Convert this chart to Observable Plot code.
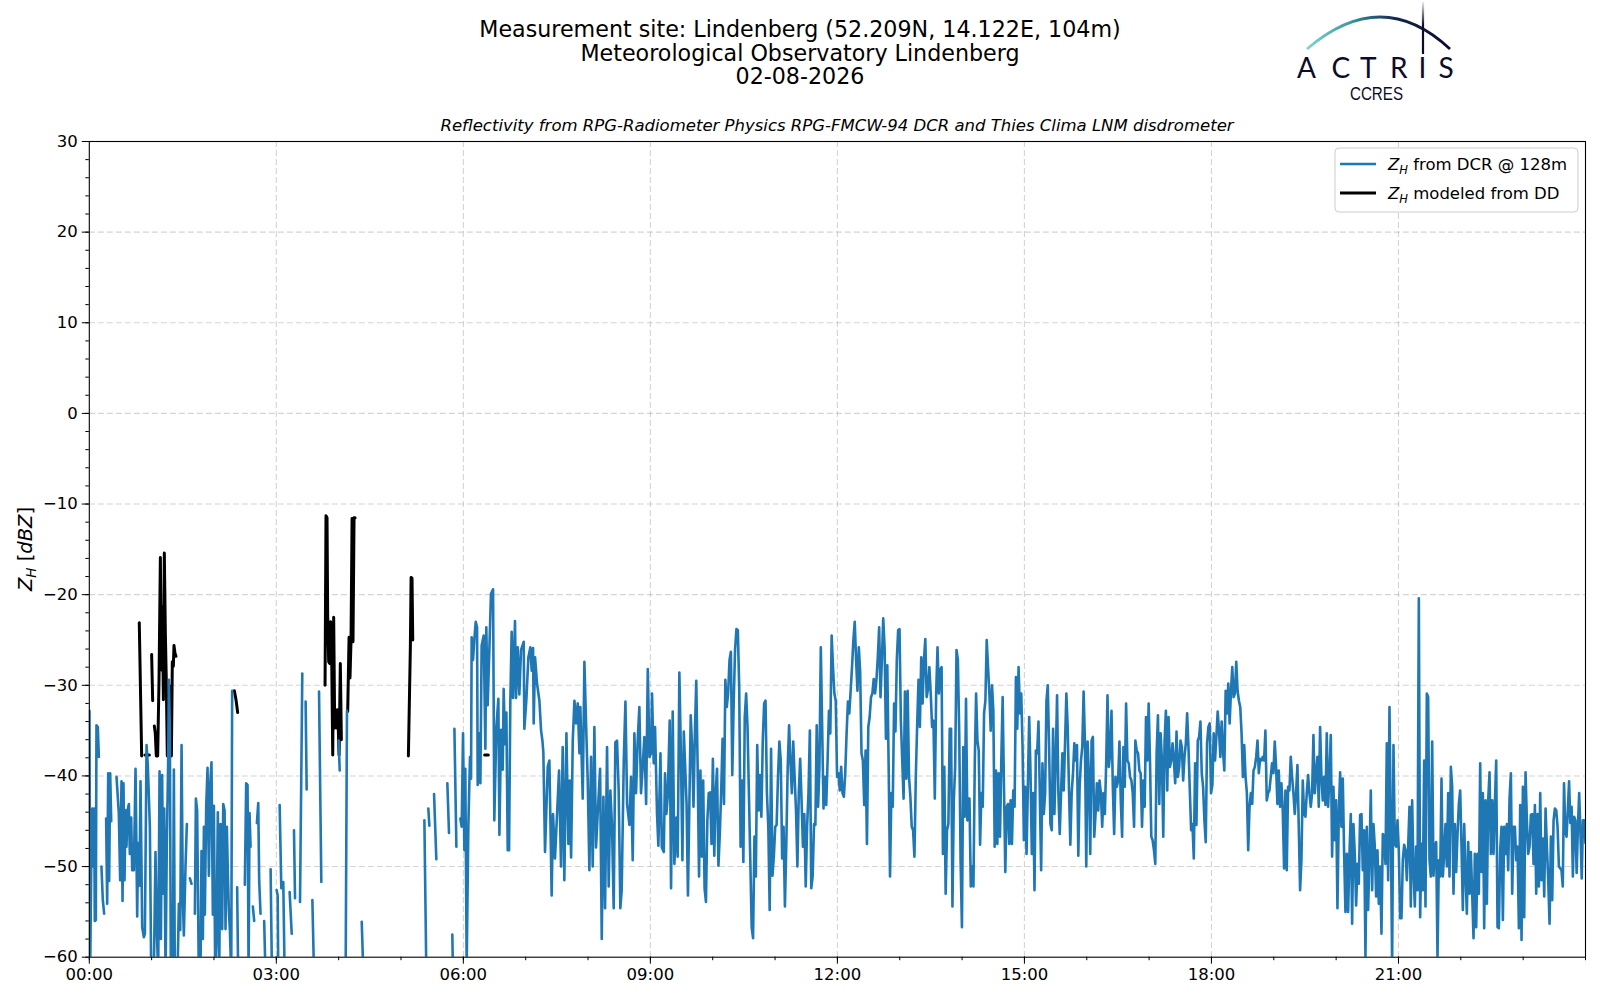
<!DOCTYPE html>
<html><head><meta charset="utf-8">
<script src="https://cdn.jsdelivr.net/npm/d3@7"></script>
<script src="https://cdn.jsdelivr.net/npm/@observablehq/plot@0.6"></script>
<style>
html,body{margin:0;padding:0;background:#fff;}
#wrap{position:relative;width:1600px;height:1000px;overflow:hidden;font-family:"DejaVu Sans",sans-serif;}
#chart{position:absolute;left:0;top:0;}
#overlay{position:absolute;left:0;top:0;}
</style></head><body>
<div id="wrap"><div id="chart"></div>
<svg id="overlay" width="1600" height="1000" font-family="DejaVu Sans">
  <defs>
    <linearGradient id="arcg" x1="1307" y1="0" x2="1450" y2="0" gradientUnits="userSpaceOnUse">
      <stop offset="0" stop-color="#86d3c9"/><stop offset="0.3" stop-color="#3a9aa3"/>
      <stop offset="0.62" stop-color="#14254f"/><stop offset="1" stop-color="#0b0b2a"/>
    </linearGradient>
    <linearGradient id="vg" x1="0" y1="0" x2="0" y2="56" gradientUnits="userSpaceOnUse">
      <stop offset="0" stop-color="#ffffff"/><stop offset="0.45" stop-color="#0b0b2a"/>
    </linearGradient>
  </defs>
  <g id="titles" text-anchor="middle" fill="#000" font-size="22.2">
    <text x="800" y="37">Measurement site: Lindenberg (52.209N, 14.122E, 104m)</text>
    <text x="800" y="60.5">Meteorological Observatory Lindenberg</text>
    <text x="800" y="84">02-08-2026</text>
  </g>
  <text x="837" y="131" text-anchor="middle" font-size="16.5" font-style="italic">Reflectivity from RPG-Radiometer Physics RPG-FMCW-94 DCR and Thies Clima LNM disdrometer</text>
  <g id="logo">
    <path d="M1307,49 Q1381.5,-15 1450,49" fill="none" stroke="url(#arcg)" stroke-width="2.8"/>
    <line x1="1423" y1="2" x2="1423" y2="54" stroke="url(#vg)" stroke-width="2.2"/>
    <text x="1297 1331.5 1360 1390 1418.5 1438.5" y="77.5" font-size="28" font-family="Lato" fill="#0b0b2a">ACTRIS</text>
    <text x="1376.5" y="100" text-anchor="middle" font-size="18" font-family="Liberation Sans" fill="#0b0b2a" textLength="53" lengthAdjust="spacingAndGlyphs">CCRES</text>
  </g>
  <text transform="translate(32,549) rotate(-90)" text-anchor="middle" font-size="19.5"><tspan font-style="italic">Z</tspan><tspan font-style="italic" font-size="13.5" dy="3.8">H</tspan><tspan dy="-3.8"> [</tspan><tspan font-style="italic">dBZ</tspan><tspan>]</tspan></text>
  <g id="legend">
    <rect x="1335" y="148" width="243" height="64" rx="4" fill="#fff" fill-opacity="0.8" stroke="#cccccc" stroke-width="1"/>
    <line x1="1340" y1="164" x2="1376" y2="164" stroke="#1f77b4" stroke-width="2.6"/>
    <line x1="1340" y1="193" x2="1376" y2="193" stroke="#000" stroke-width="3"/>
    <text x="1388" y="170" font-size="16.5"><tspan font-style="italic">Z</tspan><tspan font-style="italic" font-size="11.5" dy="3.5">H</tspan><tspan dy="-3.5"> from DCR @ 128m</tspan></text>
    <text x="1388" y="199" font-size="16.5"><tspan font-style="italic">Z</tspan><tspan font-style="italic" font-size="11.5" dy="3.5">H</tspan><tspan dy="-3.5"> modeled from DD</tspan></text>
  </g>
</svg></div>
<script>
// ---------- axis ticks ----------
const yTicks = [-60, -50, -40, -30, -20, -10, 0, 10, 20, 30];
const yGrid = [-50, -40, -30, -20, -10, 0, 10, 20];
const xTickMinutes = [0, 180, 360, 540, 720, 900, 1080, 1260];
const xTickLabels = ["00:00", "03:00", "06:00", "09:00", "12:00", "15:00", "18:00", "21:00"];
const xGrid = [180, 360, 540, 720, 900, 1080, 1260];
const xMinor = d3.range(0, 1441, 60);
const yMinor = d3.range(-60, 31, 2);

// ---------- Z_H modeled from disdrometer (time in minutes after 00:00 UTC) ----------
const ddTime = [48.1,50.4,null,53.6,57.8,null,60.0,61.0,null,62.6,63.5,64.5,65.8,67.1,68.4,69.3,70.3,71.3,72.2,73.2,74.1,75.1,76.1,77.0,78.0,79.0,79.9,80.9,81.5,82.5,83.4,null,139.6,141.2,142.8,null,226.9,227.8,228.8,229.4,230.4,231.4,232.3,233.3,234.3,235.2,236.2,237.2,238.1,239.1,240.4,241.6,242.6,null,248.7,250.0,250.9,251.9,252.9,253.8,254.8,255.8,null,307.1,309.0,309.7,310.6,311.3,null,380.5,384.0];
const ddValue = [-23.1,-37.8,null,-37.7,-37.7,null,-26.6,-31.7,null,-34.5,-35.3,-37.8,-37.8,-29.4,-15.9,-28.3,-21.4,-31.6,-15.4,-24.3,-29.4,-37.8,-34.5,-37.8,-30.1,-37.8,-27.4,-27.9,-25.6,-26.5,-26.8,null,-30.6,-31.6,-33.0,null,-30.0,-11.3,-11.5,-22.1,-27.4,-27.6,-23.0,-27.2,-37.7,-22.5,-34.7,-32.7,-34.7,-32.7,-37.7,-27.6,-36.0,null,-32.9,-24.7,-29.2,-25.0,-11.6,-25.2,-11.5,-11.5,null,-37.8,-25.8,-18.1,-18.2,-25.0,null,-37.7,-37.7];

// ---------- Z_H from DCR @ 128 m: night (sparse, gaps = null) ----------
const dcrNightTime = [0.2,0.8,1.8,2.8,3.7,4.7,5.3,6.3,6.9,8.2,9.2,null,
11.7,13.0,14.3,null,
16.2,17.2,18.2,19.1,20.1,21.1,null,
26.2,28.4,29.7,31.0,32.0,32.9,33.9,34.8,35.8,36.8,38.1,39.0,40.3,41.3,42.9,44.5,46.1,47.0,48.3,49.3,50.9,52.5,53.5,55.1,56.3,58.3,59.6,62.1,63.7,65.0,66.3,67.6,68.9,70.1,71.1,72.1,73.4,74.6,75.9,76.6,77.5,78.5,80.4,81.4,82.3,84.9,86.2,87.5,88.8,90.0,91.0,92.6,93.9,null,
96.8,98.4,null,
101.6,102.6,103.8,105.4,107.0,108.0,109.3,110.3,111.2,112.5,113.8,115.1,116.4,117.6,118.9,119.9,121.2,122.5,123.7,125.0,126.3,127.9,128.9,130.2,131.1,132.4,133.4,134.3,135.3,136.6,137.5,null,
142.3,143.3,null,
149.7,151.0,152.3,153.3,154.2,155.2,null,
157.4,158.7,null,
161.3,162.6,163.5,164.8,null,
168.3,169.6,null,
174.5,175.8,null,
180.3,181.3,181.9,null,
183.2,184.8,186.7,188.0,null,
192.8,194.8,null,
197.0,198.0,null,
202.8,205.0,null,
208.2,209.2,null,
214.7,216.3,null,
221.1,223.3,null,
240.0,241.0,null,
246.7,248.0,null,
262.2,263.8,null,
322.5,324.4,null,
326.3,327.3,null,
331.8,334.0,null,
344.6,346.2,null,
349.4,350.0,null,
351.4,353.3,null];
const dcrNightValue = [-32.8,-62,-50.5,-43.6,-50,-43.6,-56,-55.9,-34.4,-34.6,-37.9,null,
-50,-53.7,-55.2,null,
-44.7,-54.1,-39.7,-51.6,-39.7,-45,null,
-40.1,-44.1,-51.5,-40.6,-53.8,-40.8,-51.5,-43.8,-47.8,-43.8,-43.1,-48.6,-44.6,-50.4,-50.4,-39.2,-55.5,-47.4,-52.1,-40.6,-56.7,-57.8,-57.4,-36.6,-38.8,-45.6,-62,-62,-48.4,-57,-62,-39.5,-58,-39.9,-53,-43.6,-62,-47.5,-38.5,-29.4,-34.6,-62,-62,-39.3,-62,-62,-54.1,-57.0,-36.6,-53.5,-57.6,-50,-45.3,null,
-51.3,-51.9,null,
-55.2,-42.5,-43.8,-62,-62,-48.3,-58,-45.6,-55.3,-43.5,-39.1,-51.0,-40.9,-38.5,-55.3,-43.3,-62,-57.4,-44.0,-62,-45.3,-56.9,-43.1,-43.8,-56.9,-45.6,-51,-54.8,-57,-62,-30.6,null,
-52.3,-62,null,
-52,-40.8,-41,-62,-44.1,-47.8,null,
-54.4,-56,null,
-45.2,-43,-51.5,-55.2,null,
-56,-62,null,
-50.3,-62,null,
-52.6,-53.2,-62,null,
-43.2,-52.4,-51.7,-62,null,
-52.8,-57.4,null,
-46.0,-53.5,null,
-53.9,-28.7,null,
-31.8,-41.5,null,
-53.7,-62,null,
-30.7,-51.7,null,
-36.1,-39.4,null,
-62,-32.8,null,
-56.1,-62,null,
-44.9,-62,null,
-43.6,-45.5,null,
-42,-49.2,null,
-40.8,-46.3,null,
-57.5,-62,null,
-34.8,-47.8,null];

// ---------- DCR: morning 05:57 - 09:28 ----------
const dcrMorningTime = [357.1,358.4,359.7,361.0,361.9,363.2,364.8,366.4,367.4,368.0,369.3,370.6,371.9,373.2,373.8,375.4,376.4,377.6,379.6,381.2,382.1,383.4,385.0,386.6,388.6,389.8,391.8,393.7,394.7,396.3,397.9,398.8,400.1,401.4,402.7,404.0,405.2,406.5,407.8,409.7,410.7,412.3,413.9,415.5,418.1,418.7,420.6,422.6,424.5,425.8,427.1,427.7,429.0,430.9,433.2,434.8,436.1,437.0,438.6,441.2,442.8,445.0,446.3,448.2,450.2,452.1,454.0,455.6,457.2,459.2,461.1,462.4,463.7,465.3,466.9,468.5,470.1,471.7,472.6,474.9,476.5,478.1,479.7,481.3,482.9,484.5,486.1,487.7,489.3,491.6,493.2,494.8,496.4,498.3,499.9,501.5,503.1,504.7,506.3,507.9,509.5,511.1,512.4,514.4,516.0,517.6,519.8,521.4,523.0,524.6,526.2,527.8,529.4,531.0,532.6,534.2,535.9,537.5,539.1,540.7,541.6,543.2,544.5,546.4,547.7,549.7,551.0,552.9,554.1,555.4,556.7,558.6,559.9,561.5,563.1,565.1,566.3,567.9];
const dcrMorningValue = [-44.7,-45.6,-35.3,-48.2,-39.2,-61,-45.6,-37.9,-40.3,-24.7,-27.2,-24.9,-23.0,-23.6,-41.0,-35.3,-40.8,-25.6,-24.5,-37.0,-23.6,-32.2,-26.2,-19.9,-19.4,-44.9,-34.6,-31.5,-46.5,-34.9,-39.3,-30.4,-36.5,-33.0,-48.2,-48.2,-31.9,-24.1,-31.4,-22.9,-31.4,-25.8,-31.0,-26.1,-25.2,-34.8,-31.7,-26.9,-25.8,-28.4,-25.9,-34.2,-26.9,-29.8,-31.7,-35.0,-36.1,-37.4,-48.4,-39.0,-38.3,-53.2,-44.2,-49.1,-44.2,-39.4,-50.0,-36.8,-51.5,-35.3,-47.5,-40.5,-49.0,-36.1,-31.7,-34.2,-32.0,-37.5,-32.4,-42.5,-27.4,-34.2,-40.5,-50.4,-37.9,-50.0,-34.6,-47.9,-44.2,-39.2,-58,-42.3,-54.6,-36.8,-52.2,-41.6,-45.6,-54.6,-36.3,-36.1,-41.6,-54.6,-52.6,-38.3,-31.8,-43.1,-45.4,-40.1,-49.3,-35.3,-41.9,-36.1,-32.4,-41.9,-39.0,-35.7,-43.1,-28.2,-37.9,-37.5,-30.9,-38.6,-34.6,-44.2,-47.7,-37.5,-47.9,-48.4,-39.7,-44.2,-42.3,-33.9,-52.4,-32.9,-49.7,-44.6,-48.9,-28.6];

// ---------- DCR: regularly sampled blocks [start min, end min] + values ----------
const dcrBlockASpan = [569.5, 697.5];
const dcrBlockAValues = [-38.3,-49.3,-35.1,-39.0,-43.1,-53.2,-43.4,-33.3,-36.8,-43.4,
-35.3,-29.5,-39.0,-51.1,-39.4,-48.9,-40.5,-52.4,-53.9,-44.9,
-41.9,-41.8,-47.5,-38.1,-48.8,-41.9,-39.2,-49.9,-46.4,-41.6,
-35.9,-43.1,-29.4,-32.4,-30.9,-27.2,-26.3,-39.9,-32.0,-26.1,
-23.8,-23.9,-30.2,-47.8,-40.5,-49.5,-33.5,-30.9,-34.6,-41.9,
-49.3,-56.7,-57.9,-46.7,-51.1,-36.6,-43.8,-39.9,-44.5,-36.1,
-32.0,-31.7,-41.9,-45.6,-54.8,-37.0,-51.0,-48.9,-45.6,-45.4,
-40.1,-36.2,-38.3,-49.1,-45.6,-54.4,-47.5,-39.0,-34.4,-38.6,
-41.9,-36.2,-40.1,-43.8,-50.0,-41.9,-38.1,-42.7,-47.8,-44.2,
-52.2,-45.6,-41.9,-35.0,-52.4,-51.1,-45.3];

const dcrBlockBSpan = [698.8, 846.4];
const dcrBlockBValues = [-45.4,-34.4,-43.4,-39.0,-25.8,-34.6,-43.6,-40.1,-43.2,-38.3,
-32.8,-35.3,-24.5,-28.0,-30.9,-31.7,-40.1,-39.7,-41.6,-39.0,
-41.9,-42.3,-39.7,-35.3,-31.8,-33.1,-30.6,-28.0,-25.0,-23.0,
-27.2,-30.6,-25.8,-28.5,-37.5,-38.3,-43.2,-37.2,-47.5,-34.6,
-33.5,-31.3,-30.9,-29.3,-30.9,-29.4,-26.9,-23.6,-31.3,-27.2,
-22.6,-25.8,-35.9,-27.8,-39.0,-51.1,-41.9,-43.4,-32.0,-35.1,
-27.2,-23.9,-23.8,-33.9,-38.3,-42.5,-30.7,-40.3,-30.6,-40.1,
-42.3,-45.6,-46.0,-48.9,-40.1,-34.4,-29.4,-34.6,-26.9,-32.0,
-27.2,-24.9,-31.3,-30.4,-28.0,-30.9,-34.6,-33.9,-42.5,-30.9,
-25.8,-30.9,-28.3,-28.0,-48.6,-39.0,-53.0,-46.0,-45.3,-34.8,
-34.8,-54.4,-42.7,-39.0,-26.1,-27.2,-35.3,-49.3,-56.7,-36.8,
-44.5,-31.5,-44.9,-42.5];

const dcrBlockCSpan = [847.1, 1125.6];
const dcrBlockCValues = [-42.5,-52.2,-50.0,-52.2,-38.6,-30.9,-36.1,-37.2,-47.6,-41.9,
-43.4,-33.1,-31.7,-25.0,-28.0,-30.9,-35.0,-30.0,-32.8,-47.8,
-39.4,-47.5,-39.7,-46.7,-38.3,-31.3,-41.2,-50.6,-43.4,-43.1,
-47.5,-42.7,-47.5,-41.6,-43.4,-29.1,-34.8,-28.0,-33.1,-30.9,
-36.8,-47.1,-41.2,-48.6,-41.2,-33.5,-39.7,-48.6,-41.9,-52.6,
-37.2,-37.5,-34.0,-41.9,-50.4,-38.6,-44.2,-41.9,-31.7,-30.0,
-36.8,-45.3,-46.0,-34.8,-44.2,-38.3,-31.1,-41.9,-46.4,-41.9,
-37.5,-41.6,-36.4,-30.9,-34.6,-41.6,-47.6,-41.9,-39.7,-36.4,
-38.3,-36.6,-48.8,-41.2,-38.3,-36.8,-30.7,-36.4,-50.0,-36.2,
-40.1,-48.6,-36.1,-35.7,-46.7,-44.2,-40.8,-43.8,-40.5,-41.9,
-45.6,-41.9,-44.2,-38.6,-31.1,-39.0,-37.5,-32.8,-41.2,-46.4,
-40.1,-41.2,-40.5,-36.2,-42.7,-46.7,-36.8,-41.2,-32.0,-38.3,
-38.6,-40.1,-40.5,-41.9,-45.6,-36.1,-37.2,-37.5,-39.4,-39.7,
-45.6,-40.5,-43.4,-33.5,-38.3,-32.0,-38.3,-46.7,-47.1,-48.2,
-49.7,-37.5,-33.3,-43.1,-35.3,-38.3,-46.7,-36.1,-32.8,-41.6,
-33.5,-39.0,-38.3,-36.4,-38.3,-40.8,-35.1,-40.1,-39.0,-36.1,
-36.8,-40.5,-37.9,-36.4,-33.1,-36.8,-41.6,-46.0,-45.3,-49.1,
-38.6,-45.4,-36.1,-35.7,-34.0,-39.7,-41.2,-44.9,-47.3,-36.4,
-34.6,-34.2,-41.9,-41.0,-35.3,-38.3,-35.7,-32.9,-35.0,-37.9,
-34.0,-37.2,-39.4,-30.6,-33.1,-29.8,-34.2,-30.7,-28.0,-31.3,
-30.9,-27.4,-30.6,-31.7,-32.4,-35.3,-40.1,-36.6,-40.1,-41.9,
-48.2,-43.4,-41.9,-43.1,-39.4,-39.0,-37.9,-36.1,-39.7];

const dcrBlockDSpan = [1126.8, 1414.4];
const dcrBlockDValues = [-38.1,-38.3,-37.9,-38.3,-35.0,-42.7,-41.9,-41.6,-40.1,
-38.6,-39.7,-36.2,-39.0,-43.1,-39.4,-43.4,-40.8,-43.8,-50.2,
-41.6,-50.4,-41.2,-41.6,-37.9,-40.1,-41.9,-44.2,-41.9,-38.8,
-45.6,-52.6,-49.3,-40.5,-44.2,-44.5,-41.9,-39.9,-41.9,-43.4,
-41.9,-35.5,-41.9,-39.7,-37.9,-43.4,-34.6,-40.1,-42.7,-40.1,
-43.2,-35.3,-43.4,-40.1,-35.5,-48.9,-41.2,-47.1,-42.7,-54.6,
-44.2,-39.6,-45.6,-40.3,-48.6,-55.0,-48.6,-55.0,-48.6,-44.2,
-56.3,-45.3,-48.6,-54.3,-49.7,-51.9,-44.3,-44.2,-50.4,-46.0,
-60,-45.6,-54.8,-48.9,-41.6,-52.6,-45.3,-47.8,-53.3,-48.2,
-54.1,-50.0,-57.4,-46.4,-46.7,-49.7,-36.4,-51.5,-32.4,-45.6,
-61,-36.6,-47.5,-47.8,-44.9,-48.2,-55.7,-55.7,-49.3,-47.6,
-48.2,-51.5,-47.8,-43.4,-54.4,-42.7,-50.4,-54.4,-47.8,-52.6,
-20.4,-55.6,-47.5,-52.6,-38.3,-54.4,-30.9,-31.3,-49.3,-51.1,
-36.2,-51.0,-47.8,-47.3,-60,-49.3,-51.1,-40.3,-51.1,-48.6,
-45.3,-50.0,-41.9,-51.1,-39.0,-41.2,-53.0,-45.3,-50.6,-46.4,
-43.1,-41.6,-47.8,-54.8,-45.3,-50.8,-55.2,-47.3,-53.0,-48.4,
-53.0,-57.9,-48.6,-56.7,-48.6,-53.0,-38.6,-50.6,-41.9,-56.8,
-42.7,-54.1,-42.7,-39.6,-48.6,-42.7,-48.6,-43.1,-38.3,-56.7,
-56.8,-48.2,-45.6,-55.9,-45.6,-48.6,-45.3,-50.4,-42.5,-39.7,
-53.0,-45.6,-45.6,-49.3,-47.8,-56.8,-43.2,-58.1,-41.2,-55.6,
-39.6,-44.9,-48.6,-47.8,-44.3,-44.2,-49.7,-43.2,-53.0,-44.2,
-52.2,-41.9,-51.5,-46.9,-53.3,-43.6,-47.8,-51.5,-56.3,-46.7,
-53.7,-44.9,-43.6,-43.8,-45.6,-50.0];

const dcrBlockESpan = [1416.9, 1440];
const dcrBlockEValues = [-50.4,-52.2,-40.8,-46.0,-46.7,-43.8,-40.6,-45.2,-43.4,-51.1,-44.5,-44.9,-50.7,-45.6,-41.9,-46.3,-51.3,-44.9,-44.9,-47.4];

// ---------- build tables ----------
function pairs(times, values) { return times.map((t, i) => ({t, v: values[i]})); }
function block(span, values) {
  const n = values.length;
  return values.map((v, i) => ({t: span[0] + (span[1] - span[0]) * i / (n - 1), v}));
}
const dcrTable = [].concat(
  pairs(dcrNightTime, dcrNightValue),
  pairs(dcrMorningTime, dcrMorningValue),
  block(dcrBlockASpan, dcrBlockAValues),
  block(dcrBlockBSpan, dcrBlockBValues),
  block(dcrBlockCSpan, dcrBlockCValues),
  block(dcrBlockDSpan, dcrBlockDValues),
  block(dcrBlockESpan, dcrBlockEValues)
);
const ddTable = pairs(ddTime, ddValue);

const fmtY = d => d < 0 ? "\u2212" + Math.abs(d) : String(d);
const gridStyle = {stroke: "#b0b0b0", strokeOpacity: 0.55, strokeWidth: 1.1, strokeDasharray: "6,3"};

const chart = Plot.plot({
  width: 1600, height: 1000,
  marginLeft: 88.8, marginRight: 15, marginTop: 141, marginBottom: 43.3,
  style: {fontFamily: "DejaVu Sans", fontSize: "16.5px", color: "#000", background: "transparent", overflow: "visible"},
  x: {domain: [0, 1440]},
  y: {domain: [-60, 30]},
  marks: [
    Plot.gridY({ticks: yGrid, ...gridStyle}),
    Plot.gridX({ticks: xGrid, ...gridStyle}),
    Plot.line(ddTable, {x: "t", y: "v", stroke: "#000", strokeWidth: 3, clip: true, strokeLinejoin: "round"}),
    Plot.line(dcrTable, {x: "t", y: "v", stroke: "#1f77b4", strokeWidth: 2.6, clip: true, strokeLinejoin: "round"}),
    Plot.axisY({ticks: yMinor, tickSize: 3.5, tickFormat: () => "", label: null}),
    Plot.axisY({ticks: yTicks, tickSize: 7, tickPadding: 4.5, tickFormat: fmtY, label: null, fontSize: 16.5}),
    Plot.axisX({ticks: xMinor, tickSize: 3.5, tickFormat: () => "", label: null}),
    Plot.axisX({ticks: xTickMinutes, tickSize: 7, tickPadding: 4, tickFormat: d => xTickLabels[xTickMinutes.indexOf(d)], label: null, fontSize: 16.5}),
    Plot.frame({stroke: "#000", strokeWidth: 1.1})
  ]
});
document.getElementById("chart").appendChild(chart);
</script>
</body></html>
